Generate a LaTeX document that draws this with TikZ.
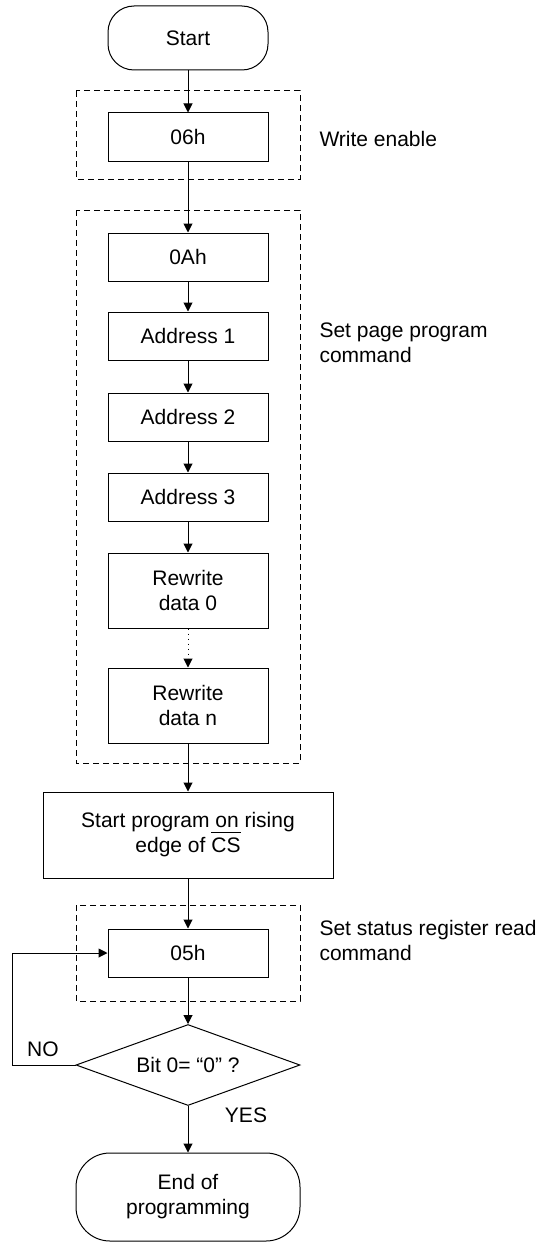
\documentclass[tikz,border=0pt]{standalone}
\usepackage{fontspec}
\setmainfont{Liberation Sans}
\usepackage{tikz}
\usetikzlibrary{arrows.meta,shapes.geometric}
\newcommand{\csbar}[1]{\setbox0\hbox{#1}\rlap{\rule[9.8pt]{\wd0}{0.5pt}}\box0}
\tikzset{
    process/.style={draw,rectangle,minimum width=80pt,minimum height=24pt,inner sep=2pt,align=center},
    terminal/.style={draw,rectangle,rounded corners=#1,minimum width=80pt,minimum height=32pt,align=center},
    terminal/.default=13pt,
    decision/.style={draw,diamond,aspect=2.77,inner sep=1pt,minimum width=112pt,minimum height=40.5pt},
    group frame/.style={draw,dash pattern=on 3pt off 2pt},
    remark/.style={anchor=west,align=left,inner sep=0pt}
}
\begin{document}
\begin{tikzpicture}[x=0.5pt,y=-0.5pt,line width=0.5pt,font=\fontsize{10.5pt}{12.5pt}\selectfont]
\useasboundingbox (0,0) rectangle (554,1247);
\begin{scope}
    \node[terminal] (start) at (188,38) {Start};
    \node[process] (wren) at (188,137) {06h};
    \node[process] (cmd) at (188,257) {0Ah};
    \node[process] (adra) at (188,336) {Address 1};
    \node[process] (adrb) at (188,417) {Address 2};
    \node[process] (adrc) at (188,497) {Address 3};
    \node[process,minimum height=37.5pt] (dat0) at (188,590.5) {Rewrite\\data 0};
    \node[process,minimum height=37.5pt] (datn) at (188,705.5) {Rewrite\\data n};
    \node[process,minimum width=145pt,minimum height=43pt] (prog) at (188,835) {Start program on rising\\edge of \csbar{CS}};
    \node[process] (rdsr) at (188,953) {05h};
    \node[decision] (busy) at (188,1065) {Bit 0= “0” ?};
    \node[terminal=17pt,minimum width=112pt,minimum height=44pt] (done) at (188,1197) {End of\\programming};
\end{scope}
% dashed groups
\draw[group frame] (76,91) rectangle (300,179);
\draw[group frame] (76,210) rectangle (300,763);
\draw[group frame] (76,905) rectangle (300,1001);
\node[remark] (lblwren) at (319,139) {Write enable};
\node[remark] (lblpage) at (319,343) {Set page program\\command};
\node[remark] (lblrdsr) at (319,940) {Set status register read\\command};
\node (lblno) at (43,1049) {NO};
\node (lblyes) at (246,1115) {YES};
\begin{scope}[>={Triangle[length=4.5pt,width=4.5pt]}]
    \draw[->] (start) -- (wren);
    \draw[->] (wren) -- (cmd);
    \draw[->] (cmd) -- (adra);
    \draw[->] (adra) -- (adrb);
    \draw[->] (adrb) -- (adrc);
    \draw[->] (adrc) -- (dat0);
    \draw[->,dotted] (dat0) -- (datn);
    \draw[->] (datn) -- (prog);
    \draw[->] (prog) -- (rdsr);
    \draw[->] (rdsr) -- (busy);
    \draw[->] (busy) -- (done);
    \coordinate (back) at (12,1065);
    \draw[->] (busy.west) -- (back) |- (rdsr.west); % retry loop
\end{scope}
\end{tikzpicture}
\end{document}
